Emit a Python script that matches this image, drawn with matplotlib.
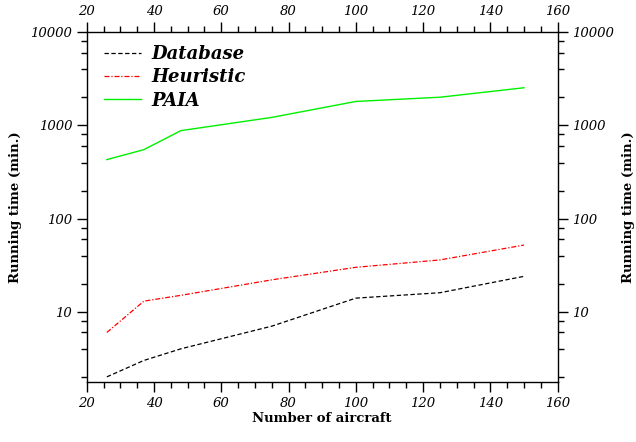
import matplotlib
matplotlib.use('Agg')
import matplotlib.pyplot as plt
from matplotlib.ticker import MultipleLocator, FixedLocator, LogLocator, FuncFormatter, NullFormatter

# values
aircraft = [26, 37, 48, 75, 100, 125, 150]
database = [2, 3, 4, 7, 14, 16, 24]
heuristic = [6, 13, 15, 22, 30, 36, 52]
paia = [430, 550, 880, 1220, 1810, 2010, 2540]

plt.rcParams['font.family'] = 'DejaVu Serif'
plt.rcParams['font.style'] = 'italic'  # tick labels are italic

fig = plt.figure(figsize=(6.36, 4.42), dpi=100)
ax = fig.add_axes([0.1363, 0.1357, 0.7406, 0.7912])

ax.plot(aircraft, database, color='black', linewidth=0.9, dashes=(3.5, 2), label='Database')
ax.plot(aircraft, heuristic, color='red', linewidth=0.9, dashes=(4, 1.5, 1, 1.5), label='Heuristic')
ax.plot(aircraft, paia, color='#00f000', linewidth=1.0, label='PAIA')

ax.set_yscale('log')
ax.set_xlim(20, 160)
ax.set_ylim(1.76, 10000)

ax.xaxis.set_major_locator(MultipleLocator(20))
ax.xaxis.set_minor_locator(MultipleLocator(5))
ax.yaxis.set_major_locator(FixedLocator([10, 100, 1000, 10000]))
ax.yaxis.set_major_formatter(FuncFormatter(lambda v, p: '%d' % v))
ax.yaxis.set_minor_locator(LogLocator(base=10, subs=(2, 4, 6, 8)))
ax.yaxis.set_minor_formatter(NullFormatter())

ax.tick_params(which='both', direction='out', top=True, right=True,
               labeltop=True, labelright=True, width=1.0, labelsize=9.5)
ax.tick_params(which='major', length=7.5, pad=3)
ax.tick_params(which='minor', length=4.3)
for s in ax.spines.values():
    s.set_linewidth(1.0)

ax.set_xlabel('Number of aircraft', fontweight='bold', fontstyle='normal', fontsize=9.5, labelpad=2)
ax.set_ylabel('Running time (min.)', fontweight='bold', fontstyle='normal', fontsize=9.5, labelpad=6)
fig.text(0.988, 0.532, 'Running time (min.)', rotation=90, fontweight='bold', fontstyle='normal',
         fontsize=9.5, ha='center', va='center')

leg = ax.legend(loc='upper left', bbox_to_anchor=(0.009, 1.0), frameon=False,
                handlelength=2.05, labelspacing=0.3, borderaxespad=0.3, handletextpad=0.6,
                prop={'family': 'DejaVu Serif', 'weight': 'bold', 'style': 'italic', 'size': 13})

plt.savefig('out.png', dpi=100)
plt.close()
